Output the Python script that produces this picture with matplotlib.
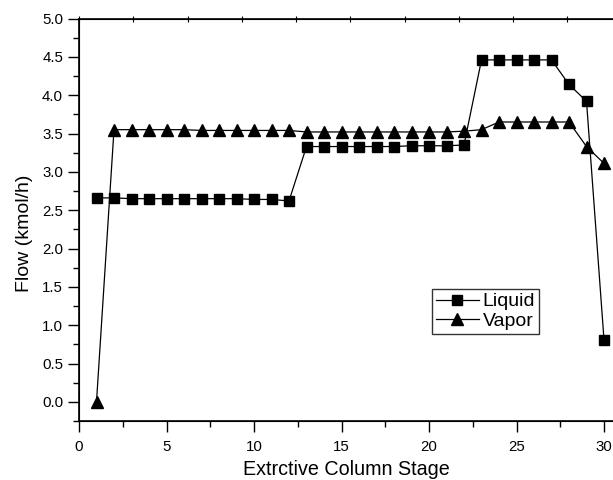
import matplotlib
matplotlib.use("Agg")
import matplotlib.pyplot as plt
from matplotlib.ticker import MultipleLocator, FormatStrFormatter

plt.rcParams['font.family'] = ['Liberation Sans', 'DejaVu Sans']

stages = list(range(1, 31))
liquid = [2.66, 2.66, 2.65, 2.65, 2.65, 2.65, 2.65, 2.65, 2.65, 2.64, 2.64, 2.62,
          3.33, 3.33, 3.33, 3.33, 3.33, 3.33, 3.34, 3.34, 3.34, 3.35,
          4.46, 4.46, 4.46, 4.46, 4.46, 4.14, 3.92, 0.81]
vapor = [0.00, 3.55, 3.55, 3.55, 3.55, 3.55, 3.54, 3.54, 3.54, 3.54, 3.54, 3.54,
         3.52, 3.52, 3.52, 3.52, 3.52, 3.52, 3.52, 3.52, 3.52, 3.53,
         3.55, 3.65, 3.65, 3.65, 3.65, 3.65, 3.33, 3.11]

fig = plt.figure(figsize=(6.13, 4.80), dpi=100)
ax = fig.add_axes([79 / 613, 59 / 480, 535.5 / 613, 402.5 / 480])

ax.plot(stages, liquid, color='black', lw=0.9, marker='s', ms=7.2,
        label='Liquid')
ax.plot(stages, vapor, color='black', lw=0.9, marker='^', ms=8.7,
        label='Vapor')

ax.set_xlim(0, 30.6)
ax.set_ylim(-0.25, 5.0)
ax.xaxis.set_major_locator(MultipleLocator(5))
ax.xaxis.set_minor_locator(MultipleLocator(2.5))
ax.yaxis.set_major_locator(MultipleLocator(0.5))
ax.yaxis.set_minor_locator(MultipleLocator(0.25))
ax.yaxis.set_major_formatter(FormatStrFormatter('%.1f'))
ax.tick_params(which='major', direction='out', length=8, width=1.0,
               labelsize=10.8, top=False, right=False)
ax.tick_params(which='minor', direction='out', length=4, width=1.0,
               top=False, right=False)
ax.tick_params(axis='x', pad=6)
for s in ax.spines.values():
    s.set_linewidth(1.2)

# small unlabelled ticks along the upper frame
top = ax.twiny()
top.set_xlim(0, 30.6 / 3.1)
top.xaxis.set_major_locator(MultipleLocator(1))
top.tick_params(axis='x', direction='inout', length=4, width=0.8,
                labelbottom=False, labeltop=False)

ax.set_xlabel('Extrctive Column Stage', fontsize=14.2, labelpad=4)
ax.set_ylabel('Flow (kmol/h)', fontsize=14)
ax.yaxis.set_label_coords(-0.086, 0.467)

leg = ax.legend(loc='upper left', bbox_to_anchor=(0.659, 0.328),
                fontsize=14, frameon=True, fancybox=False, borderpad=0.2,
                handlelength=2.2, handletextpad=0.2, labelspacing=0.1,
                borderaxespad=0)
leg.get_frame().set_edgecolor('black')
leg.get_frame().set_linewidth(1.0)
leg.set_zorder(10)

fig.savefig('out.png', dpi=100)
